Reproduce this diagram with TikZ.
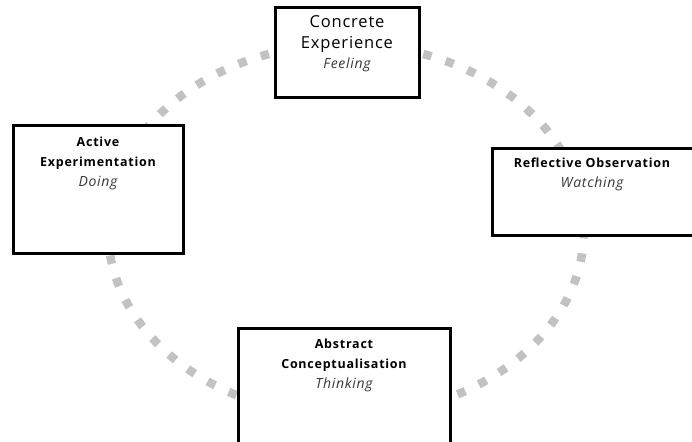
\documentclass[tikz,border=0pt]{standalone}
\usepackage{fontspec}
\setmainfont{Open Sans}
\usetikzlibrary{positioning}

\definecolor{cycledot}{gray}{0.76}
\definecolor{modetext}{gray}{0.22}

\tikzset{
  stage/.style={draw=black, line width=3pt, fill=white, inner sep=0pt},
  stagetext/.style={align=center, inner sep=0pt, anchor=north,
    font=\bfseries\fontsize{12.5}{20}\selectfont\addfontfeature{LetterSpace=6}},
}
\newcommand{\mode}[1]{{\mdseries\itshape\fontsize{14}{20}\selectfont\addfontfeature{LetterSpace=5}\color{modetext}#1}}

\begin{document}
\begin{tikzpicture}[x=1pt, y=-1pt]
  \useasboundingbox (0,0) rectangle (692,441);
  \clip (0,0) rectangle (692,441);

  % the learning cycle
  \draw[cycledot, line width=8.5pt, dash pattern=on 8.5pt off 15pt]
    (346,230) ellipse [x radius=238, y radius=186];

  % the four stages
  \node[stage, minimum width=144pt, minimum height=90pt] (CE) at (347,53) {};
  \node[stage, minimum width=220pt, minimum height=87pt] (RO) at (602,191.5) {};
  \node[stage, minimum width=212pt, minimum height=133pt] (AC) at (344,394.5) {};
  \node[stage, minimum width=170pt, minimum height=128pt] (AE) at (98,189) {};

  \node[stagetext, font=\fontsize{16.5}{21}\selectfont\addfontfeature{LetterSpace=5},
    below=9pt of CE.north] (CEt)
    {Concrete\\Experience\\[-1pt]\mode{Feeling}};
  \node[stagetext, below=11pt of RO.north, xshift=-10pt] (ROt)
    {Reflective Observation\\\mode{Watching}};
  \node[stagetext, below=12pt of AC.north] (ACt)
    {Abstract\\Conceptualisation\\\mode{Thinking}};
  \node[stagetext, below=13pt of AE.north] (AEt)
    {Active\\Experimentation\\\mode{Doing}};
\end{tikzpicture}
\end{document}
